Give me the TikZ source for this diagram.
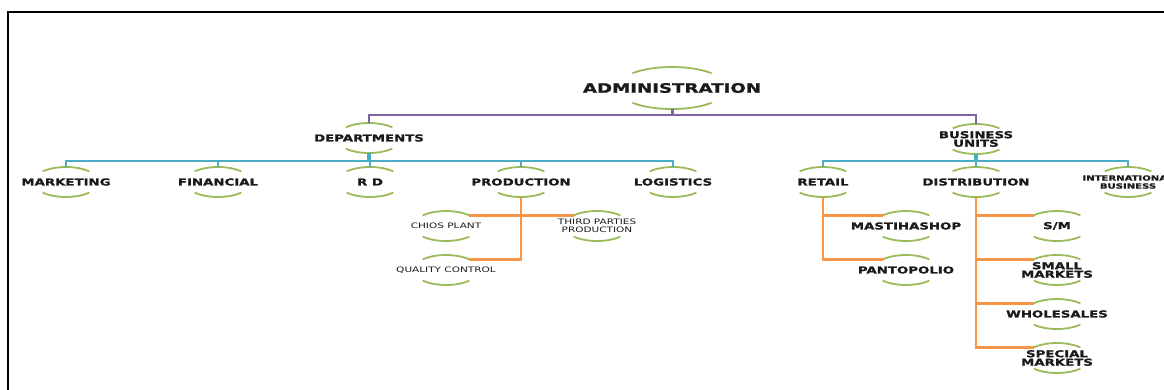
\documentclass[tikz,border=0pt]{standalone}
\usepackage{fontspec}
\setmainfont{DejaVu Sans}[FakeStretch=1.4, BoldFeatures={FakeBold=1.2}]
\usetikzlibrary{shapes.geometric}
\definecolor{cpur}{HTML}{8064A2}
\definecolor{ccy}{HTML}{4BACC6}
\definecolor{corg}{HTML}{F79646}
\definecolor{cgrn}{HTML}{9BBB59}
\definecolor{ctxt}{HTML}{1A1A1A}
\newcommand\ovarcs[3]{%
  \draw[arcline] (#1.center) ++(45:#2 and #3) arc[start angle=45,end angle=135,x radius=#2,y radius=#3];
  \draw[arcline] (#1.center) ++(225:#2 and #3) arc[start angle=225,end angle=315,x radius=#2,y radius=#3];}
\begin{document}
\begin{tikzpicture}[x=1pt,y=-1pt,
  ov/.style={ellipse, minimum width=66pt, minimum height=30pt, inner sep=0pt, outer sep=0pt},
  bigov/.style={ellipse, minimum width=112pt, minimum height=42pt, inner sep=0pt, outer sep=0pt},
  bt/.style={font=\fontsize{9.5}{8.5}\selectfont\bfseries, text=ctxt, align=center, inner sep=0pt},
  btsmall/.style={font=\fontsize{7.2}{8}\selectfont\bfseries, text=ctxt, align=center, inner sep=0pt},
  bighead/.style={font=\fontsize{13}{14}\selectfont\bfseries, text=ctxt, align=center, inner sep=0pt},
  st/.style={font=\fontsize{7.5}{8}\selectfont, text=ctxt, align=center, inner sep=0pt},
  arcline/.style={draw=cgrn, line width=1.8pt},
  pur/.style={draw=cpur, line width=2pt},
  cyl/.style={draw=ccy, line width=2.4pt},
  orl/.style={draw=corg, line width=2.8pt},
]
\useasboundingbox (0,0) rectangle (1164,389);
\draw[black, line width=2pt] (8,12) rectangle (1180,400);

% nodes
\node[bigov, label={[bighead]center:ADMINISTRATION}] (adm) at (672,88) {};
\node[ov, label={[bt]center:DEPARTMENTS}] (dep) at (369,138) {};
\node[ov, label={[bt]center:{BUSINESS\\UNITS}}] (bu) at (976,139) {};

\node[ov, label={[bt]center:MARKETING}] (mkt) at (66,182) {};
\node[ov, label={[bt]center:FINANCIAL}] (fin) at (218,182) {};
\node[ov, label={[bt]center:R D}] (rd) at (370,182) {};
\node[ov, label={[bt]center:PRODUCTION}] (prod) at (521,182) {};
\node[ov, label={[bt]center:LOGISTICS}] (logi) at (673,182) {};

\node[ov, label={[bt]center:RETAIL}] (ret) at (823,182) {};
\node[ov, label={[bt]center:DISTRIBUTION}] (dist) at (976,182) {};
\node[ov, label={[btsmall]center:{INTERNATIONAL\\BUSINESS}}] (intl) at (1128,182) {};

\node[ov, label={[st]center:CHIOS PLANT}] (chios) at (446,226) {};
\node[ov, label={[st]center:{THIRD PARTIES\\PRODUCTION}}] (third) at (597,226) {};
\node[ov, label={[st]center:QUALITY CONTROL}] (qc) at (446,270) {};

\node[ov, label={[bt]center:MASTIHASHOP}] (mas) at (906,226) {};
\node[ov, label={[bt]center:PANTOPOLIO}] (pan) at (906,270) {};

\node[ov, label={[bt]center:S/M}] (sm) at (1057,226) {};
\node[ov, label={[bt]center:{SMALL\\MARKETS}}] (small) at (1057,270) {};
\node[ov, label={[bt]center:WHOLESALES}] (whole) at (1057,314) {};
\node[ov, label={[bt]center:{SPECIAL\\MARKETS}}] (spec) at (1057,358) {};

% arcs
\ovarcs{adm}{56}{21}
\foreach \n in {dep,bu,mkt,fin,rd,prod,logi,ret,dist,intl,chios,third,qc,mas,pan,sm,small,whole,spec}{\ovarcs{\n}{33}{15}}

% purple connectors
\draw[pur, line width=3pt] (adm.south) -- ++(0,7);
\draw[pur] (adm.south) ++(0,6) -| (dep.north);
\draw[pur] (adm.south) ++(0,6) -| (bu.north);

% cyan connectors
\draw[cyl, line width=4pt] (dep.south) -- ++(0,8);
\foreach \c in {mkt,fin,rd,prod,logi}{\draw[cyl] (dep.south) ++(0,8) -| (\c.north);}
\draw[cyl, line width=4pt] (bu.south) -- ++(0,7);
\foreach \c in {ret,dist,intl}{\draw[cyl] (bu.south) ++(0,7) -| (\c.north);}

% orange connectors
\draw[orl] (prod.south) |- (chios.north east);
\draw[orl] (prod.south) |- (third.north west);
\draw[orl] (prod.south) |- (qc.north east);
\draw[orl] (ret.south) |- (mas.north west);
\draw[orl] (ret.south) |- (pan.north west);
\foreach \c in {sm,small,whole,spec}{\draw[orl] (dist.south) |- (\c.north west);}
\end{tikzpicture}
\end{document}
